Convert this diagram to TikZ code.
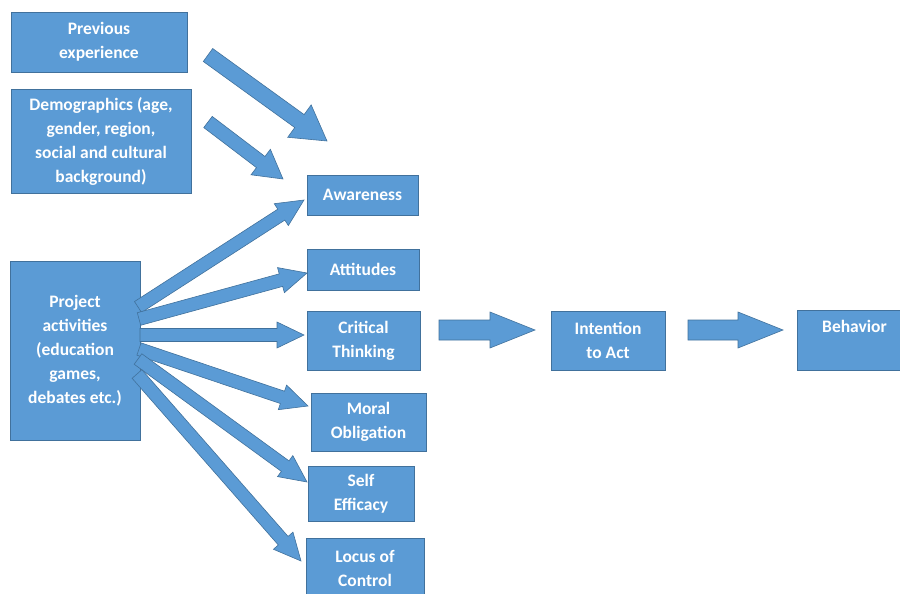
\documentclass[tikz,border=0pt]{standalone}
\usepackage{fontspec}
\setmainfont{Carlito}
\usetikzlibrary{calc}
\definecolor{boxblue}{HTML}{5B9BD5}
\definecolor{boxedge}{HTML}{41719C}
% block arrow: tail, tip, half shaft, half head, head length
\newcommand{\fatarrow}[5]{%
  \draw[arr] let \p1=($(#2)-(#1)$), \n1={atan2(\y1,\x1)} in
    ($(#1)+({\n1+90}:#3)$) -- ($(#2)+(\n1:-#5)+({\n1+90}:#3)$)
    -- ($(#2)+(\n1:-#5)+({\n1+90}:#4)$) -- (#2)
    -- ($(#2)+(\n1:-#5)+({\n1-90}:#4)$) -- ($(#2)+(\n1:-#5)+({\n1-90}:#3)$)
    -- ($(#1)+({\n1-90}:#3)$) -- cycle;}

\begin{document}
\begin{tikzpicture}[x=1pt,y=-1pt,
  box/.style={draw=boxedge,fill=boxblue,text=white,align=center,inner sep=0pt,
    line width=0.8pt,font=\bfseries\fontsize{17.5}{24}\selectfont},
  arr/.style={draw=boxedge,fill=boxblue,line width=0.6pt,line join=miter}]
  \useasboundingbox (0,0) rectangle (900,594);
  % left column
  \node[box,minimum width=176,minimum height=60] (prev) at (99,42) {Previous\\experience};
  \node[box,minimum width=180,minimum height=104] (demo) at (101,141)
    {Demographics (age,\\gender, region,\\social and cultural\\background)};
  \node[box,minimum width=130,minimum height=179] (proj) at (75,350.5)
    {Project\\activities\\(education\\games,\\debates etc.)};
  % middle column
  \node[box,minimum width=111,minimum height=40] (aware) at (362.5,195) {Awareness};
  \node[box,minimum width=112,minimum height=41] (att) at (363,269.5) {Attitudes};
  \node[box,minimum width=113,minimum height=59] (crit) at (363.5,340.5) {Critical\\Thinking};
  \node[box,minimum width=115,minimum height=58] (moral) at (368.5,422) {Moral\\Obligation};
  \node[box,minimum width=106,minimum height=55] (self) at (361,494) {Self\\Efficacy};
  \node[box,minimum width=118,minimum height=60] (locus) at (365,568) {Locus of\\Control};
  % right part
  \node[box,minimum width=114,minimum height=59] (intent) at (608,340.5) {Intention\\to Act};
  \node[box,minimum width=115,minimum height=60] (behav) at (854.5,340) {Behavior\\[4pt]};
  % arrow ends
  \coordinate (t-prev) at (208,55);   \coordinate (h-prev) at (327,141);
  \coordinate (t-demo) at (208,122);  \coordinate (h-demo) at (283,179);
  \coordinate (t-aw) at (138,307);    \coordinate (h-aw) at (304,200);
  \coordinate (t-att) at (139,319);   \coordinate (h-att) at (307,273);
  \coordinate (t-crit) at (140,335);  \coordinate (h-crit) at (304,335);
  \coordinate (t-mor) at (139,349);   \coordinate (h-mor) at (308,406);
  \coordinate (t-self) at (138,359);  \coordinate (h-self) at (307,482);
  \coordinate (t-loc) at (137,374);   \coordinate (h-loc) at (301,561);
  \coordinate (t-int) at (439,330);   \coordinate (h-int) at (535,330);
  \coordinate (t-beh) at (688,330);   \coordinate (h-beh) at (783,330);
  % block arrows
  \fatarrow{t-prev}{h-prev}{8pt}{20pt}{34pt}
  \fatarrow{t-demo}{h-demo}{7pt}{16pt}{28pt}
  \foreach \k in {aw,att,crit,mor,self,loc}
    {\fatarrow{t-\k}{h-\k}{6.5pt}{13pt}{27pt}}
  \fatarrow{t-int}{h-int}{10pt}{18pt}{45pt}
  \fatarrow{t-beh}{h-beh}{10pt}{18pt}{45pt}
\end{tikzpicture}
\end{document}
